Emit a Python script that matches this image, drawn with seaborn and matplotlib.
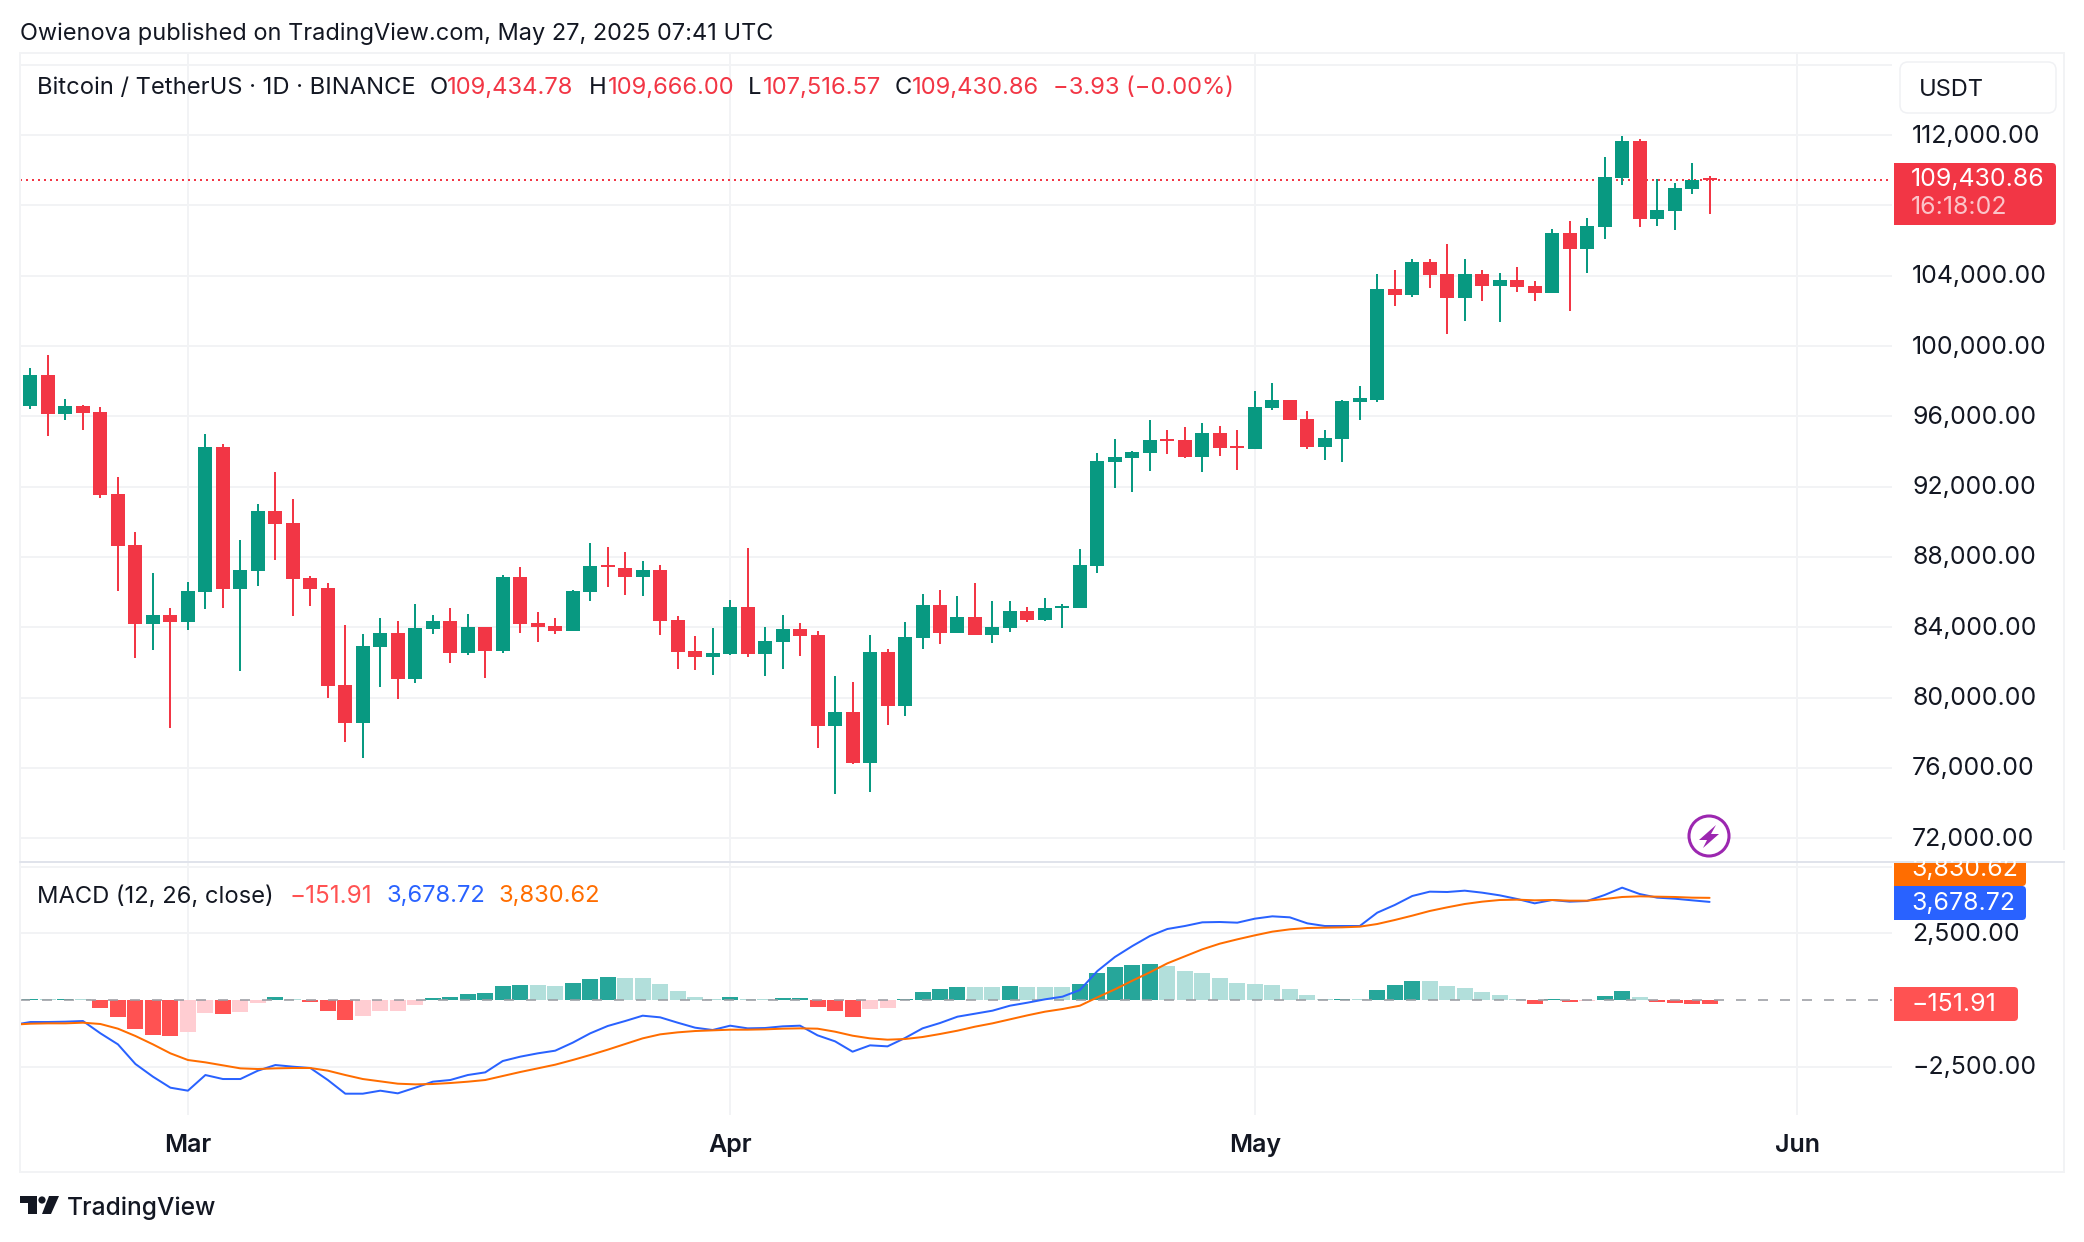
# BTC/USDT daily chart with MACD pane, TradingView look
import numpy as np
import pandas as pd
import matplotlib
matplotlib.use("Agg")
import matplotlib.pyplot as plt
from matplotlib.patches import Rectangle, Circle, Polygon, FancyBboxPatch
from matplotlib.transforms import ScaledTranslation
import seaborn as sns

# =============================================================================
# DATA
# =============================================================================
opens = [96587, 98350, 96132, 96587, 96246, 91582, 88681, 84187, 84699, 84301,
         86008, 94255, 86178, 87202, 90615, 89932, 86804, 86235, 80718, 78556,
         82879, 83675, 81059, 83903, 84358, 82538, 84017, 82652, 86843, 84227,
         84056, 83772, 85990, 87526, 87355, 86843, 87242, 84398, 82634, 82293,
         82464, 85137, 82464, 83146, 83886, 83544, 78368, 79165, 76264, 82577,
         79506, 83374, 85251, 83658, 84568, 83544, 83943, 84908, 84396, 85079,
         85079, 87468, 93384, 93611, 93895, 94692, 94635, 93668, 95033, 94294,
         94123, 96455, 96910, 95829, 94237, 94692, 96796, 96927, 103240, 102899,
         104776, 104094, 102729, 104094, 103411, 103752, 103411, 103013, 106426, 105516,
         106767, 109554, 111659, 107222, 107677, 108928, 109434.78]
highs = [98749, 99488, 96985, 96644, 96530, 92549, 89420, 87088, 85097, 86576,
         94995, 94426, 88965, 91013, 92833, 91297, 86918, 86519, 84130, 83619,
         84529, 84358, 85325, 84699, 85097, 84756, 84017, 86974, 87412, 84853,
         84511, 86104, 88777, 88550, 88265, 87754, 87526, 84625, 83488, 83943,
         85535, 88493, 83999, 84682, 84227, 83772, 81212, 80871, 83544, 82748,
         84284, 85876, 86104, 85763, 86502, 85478, 85478, 85136, 85648, 85307,
         88435, 93895, 94692, 94009, 95772, 95204, 95374, 95602, 95431, 95204,
         97422, 97877, 96910, 96284, 95204, 96910, 97706, 104094, 104321, 104947,
         104947, 105800, 104947, 104321, 104151, 104492, 103696, 106653, 107108, 107279,
         110749, 111943, 111772, 109497, 109270, 110407, 109666.00]
lows = [96417, 94881, 95791, 95222, 91354, 86064, 82253, 82708, 78272, 83846,
        85041, 85097, 81514, 86349, 87828, 84642, 85211, 79978, 77476, 76565,
        80604, 79921, 80831, 83619, 81969, 82424, 81116, 82538, 83658, 83146,
        83601, 83772, 85478, 86275, 85820, 85763, 83544, 81610, 81554, 81269,
        82407, 82293, 81212, 81610, 82350, 77117, 74500, 76207, 74614, 78425,
        78937, 82748, 83032, 83658, 83544, 83089, 83715, 84283, 84340, 83941,
        85079, 87070, 91905, 91677, 92872, 93839, 93611, 92815, 93725, 92928,
        94123, 96341, 95772, 94123, 93497, 93384, 95772, 96813, 102274, 102785,
        103297, 100681, 101420, 102558, 101363, 103070, 102558, 103013, 101989, 104151,
        106084, 109156, 106767, 106824, 106596, 108644, 107516.57]
closes = [98350, 96132, 96587, 96189, 91525, 88624, 84187, 84699, 84301, 86064,
          94255, 86178, 87259, 90615, 89875, 86747, 86178, 80661, 78556, 82936,
          83675, 81059, 83960, 84358, 82538, 84017, 82652, 86861, 84170, 83999,
          83772, 86047, 87469, 87412, 86843, 87242, 84341, 82577, 82293, 82521,
          85137, 82464, 83203, 83886, 83488, 78368, 79165, 76264, 82577, 79506,
          83431, 85251, 83658, 84568, 83544, 83999, 84910, 84396, 85079, 85193,
          87525, 93440, 93668, 93952, 94635, 94578, 93668, 95033, 94180, 94180,
          96512, 96910, 95772, 94237, 94749, 96853, 97024, 103240, 102899, 104776,
          104037, 102729, 104094, 103411, 103752, 103354, 103013, 106426, 105516, 106824,
          109611, 111659, 107222, 107734, 108985, 109434, 109430.86]

hist_values = [40, 25, 40, 25, -300, -638, -1088, -1313, -1350, -1200,
               -488, -525, -450, -113, 113, 30, -75, -413, -750, -600,
               -425, -413, -188, 75, 113, 225, 263, 525, 575, 563,
               525, 638, 788, 863, 825, 812, 600, 338, 113, 25,
               113, 30, 25, 75, 80, -263, -413, -638, -338, -300,
               38, 300, 413, 488, 485, 480, 525, 490, 488, 485,
               600, 1013, 1238, 1313, 1350, 1275, 1088, 1013, 825, 638,
               600, 563, 413, 188, 30, 35, 25, 375, 563, 713,
               700, 525, 450, 300, 188, 38, -138, 30, -65, -30,
               150, 338, 113, -65, -100, -138, -151.91]

# both lines start one day before the first candle, clipped by the pane edge
macd_line = [-938, -825, -825, -813, -788, -1250, -1663, -2400, -2875, -3288, -3400,
             -2813, -2963, -2963, -2650, -2438, -2500, -2550, -3000, -3513, -3513,
             -3400, -3500, -3288, -3063, -3000, -2813, -2713, -2288, -2125, -2000,
             -1900, -1600, -1250, -975, -788, -588, -650, -850, -1038, -1125,
             -963, -1063, -1050, -988, -963, -1325, -1550, -1938, -1700, -1738,
             -1425, -1063, -863, -625, -513, -400, -213, -100, 25, 125,
             375, 1088, 1613, 2025, 2400, 2663, 2775, 2913, 2925, 2900,
             3050, 3138, 3100, 2875, 2775, 2775, 2775, 3275, 3563, 3900,
             4063, 4050, 4100, 4025, 3925, 3788, 3625, 3750, 3688, 3713,
             3938, 4213, 3975, 3838, 3800, 3738, 3678.72]
signal_line = [-925, -888, -875, -875, -850, -900, -1075, -1350, -1663, -2000, -2250,
               -2338, -2450, -2563, -2588, -2563, -2550, -2550, -2650, -2813, -2963,
               -3050, -3138, -3163, -3150, -3113, -3063, -3000, -2850, -2700, -2563,
               -2425, -2250, -2063, -1863, -1650, -1438, -1288, -1213, -1163, -1138,
               -1113, -1113, -1100, -1075, -1063, -1075, -1188, -1338, -1438, -1488,
               -1463, -1388, -1275, -1150, -1000, -875, -725, -575, -438, -338,
               -213, 100, 400, 725, 1038, 1375, 1638, 1900, 2113, 2275,
               2425, 2563, 2650, 2700, 2713, 2725, 2750, 2850, 3000, 3163,
               3338, 3475, 3600, 3688, 3750, 3763, 3738, 3750, 3725, 3725,
               3788, 3863, 3888, 3875, 3863, 3838, 3830.62]

price_ticks = [72000, 76000, 80000, 84000, 88000, 92000, 96000, 100000, 104000, 108000, 112000, 116000]
price_labels = ["72,000.00", "76,000.00", "80,000.00", "84,000.00", "88,000.00", "92,000.00",
                "96,000.00", "100,000.00", "104,000.00", "", "112,000.00", ""]
macd_ticks = [-2500, 2500, 5000]
macd_labels = ["\u22122,500.00", "2,500.00", ""]
month_days = [9, 40, 70, 101]   # days since Feb 20
month_labels = ["Mar", "Apr", "May", "Jun"]

UP = "#089981"
DOWN = "#F23645"
GRID = "#F2F3F5"
TEXT = "#131722"
hist_palette = {"up_strong": "#26A69A", "up_weak": "#B2DFDB", "down_strong": "#FF5252", "down_weak": "#FFCDD2"}

# =============================================================================
# LAYOUT
# =============================================================================
W, H = 2084, 1242
PANE_L, PANE_R = 20, 1892
MAIN_T, MAIN_B = 53, 862
MACD_B = 1115
LW2 = 1.44   # 2 px at dpi 100
AXIS_FS = 17.9

sns.set_theme(style="white")
plt.rcParams["font.family"] = ["Inter", "DejaVu Sans"]

fig = plt.figure(figsize=(W / 100, H / 100), dpi=100, facecolor="white")
ax = fig.add_axes([PANE_L / W, (H - MAIN_B) / H, (PANE_R - PANE_L) / W, (MAIN_B - MAIN_T) / H])
ax_macd = fig.add_axes([PANE_L / W, (H - MACD_B) / H, (PANE_R - PANE_L) / W, (MACD_B - MAIN_B) / H])
over = fig.add_axes([0, 0, 1, 1], zorder=5)
over.set_xlim(0, W); over.set_ylim(H, 0); over.axis("off"); over.patch.set_alpha(0)

days = np.arange(len(closes))
XLIM = (-0.6, 106.43)

# =============================================================================
# CANDLES
# =============================================================================
o, h, l, c = map(np.array, (opens, highs, lows, closes))
colors = np.where(c >= o, UP, DOWN)
ax.vlines(days, l, h, colors=colors, linewidth=LW2, zorder=3)
body = np.maximum(np.abs(c - o), 114)  # doji still gets a 2px body
ax.bar(days, body, bottom=np.minimum(o, c), width=0.8, color=colors, linewidth=0, zorder=3)
ax.axhline(closes[-1], color=DOWN, lw=LW2, ls=(0, (1, 2)), zorder=2)

ax.set_xlim(*XLIM)
ax.set_ylim(70650, 116666)
ax.set_xticks(month_days)
ax.set_xticklabels([])
ax.set_yticks(price_ticks)
ax.set_yticklabels(price_labels, va="center_baseline")
ax.yaxis.tick_right()
ax.tick_params(axis="both", length=0, pad=14.5, labelsize=AXIS_FS, labelcolor=TEXT)
ax.grid(True, color=GRID, lw=LW2, zorder=0)
ax.set_axisbelow(True)
sns.despine(ax=ax, left=True, bottom=True, right=True, top=True)

# =============================================================================
# MACD PANE
# =============================================================================
hist = np.array(hist_values)
prev = np.r_[-np.inf, hist[:-1]]
shade = [("up" if v >= 0 else "down") + ("_strong" if (v > p) == (v >= 0) else "_weak") for v, p in zip(hist, prev)]
hist_df = pd.DataFrame({"day": days, "hist": hist, "shade": shade})
sns.barplot(data=hist_df, x="day", y="hist", hue="shade", palette=hist_palette, native_scale=True,
            dodge=False, width=0.915, saturation=1, errorbar=None, legend=False, linewidth=0,
            ax=ax_macd, zorder=2)
ax_macd.axhline(0, color="#9A9CA3", lw=LW2, ls=(0, (5, 6)), alpha=0.8, zorder=3)

line_days = np.arange(-1, len(closes))
sns.lineplot(x=line_days, y=macd_line, color="#2962FF", lw=LW2, ax=ax_macd, zorder=4)
sns.lineplot(x=line_days, y=signal_line, color="#FF6D00", lw=LW2, ax=ax_macd, zorder=5)

ax_macd.set_xlim(*XLIM)
ax_macd.set_ylim(-4312, 5175)
ax_macd.set_xlabel(""); ax_macd.set_ylabel("")
ax_macd.set_xticks(month_days)
ax_macd.set_xticklabels(month_labels, fontsize=18, fontweight="semibold", color=TEXT)
ax_macd.set_yticks(macd_ticks)
ax_macd.set_yticklabels(macd_labels, va="center_baseline")
ax_macd.yaxis.tick_right()
ax_macd.tick_params(axis="y", length=0, pad=14.5, labelsize=AXIS_FS, labelcolor=TEXT)
ax_macd.tick_params(axis="x", length=0, pad=14)
ax_macd.grid(True, color=GRID, lw=LW2, zorder=0)
ax_macd.set_axisbelow(True)
sns.despine(ax=ax_macd, left=True, bottom=True, right=True, top=True)

# price labels sit a touch high in the reference
nudge = ScaledTranslation(0, 1.5 / 100, fig.dpi_scale_trans)
for a in (ax, ax_macd):
    for t in a.get_yticklabels():
        t.set_transform(t.get_transform() + nudge)

# =============================================================================
# CHROME: frame, header, price tags, logo
# =============================================================================
over.add_patch(Rectangle((20, 53), 2044, 1119, fc="none", ec=GRID, lw=LW2))
over.plot([20, 2064], [862, 862], color="#E0E3EB", lw=LW2)

def put(x, y, s, size=17.1, color=TEXT, **kw):
    return over.text(x, y + 1.5, s, fontsize=size, color=color, va="center", ha="left", **kw)

def tag(x, y, w, ht, color):
    # rounded on the right side only
    over.add_patch(FancyBboxPatch((x + 4, y + 4), w - 8, ht - 8, boxstyle="round,pad=4,rounding_size=4", fc=color, ec="none"))
    over.add_patch(Rectangle((x, y), w / 2, ht, fc=color, ec="none"))

put(20, 32, "Owienova published on TradingView.com, May 27, 2025 07:41 UTC", size=16.95)

# legend line, main pane
put(37, 86.5, "Bitcoin / TetherUS \u00b7 1D \u00b7 BINANCE")
for x, lab, xv, val in [(430, "O", 447, "109,434.78"), (589, "H", 608, "109,666.00"),
                        (748, "L", 763, "107,516.57"), (895, "C", 912, "109,430.86")]:
    put(x, 86.5, lab)
    put(xv, 86.5, val, color=DOWN)
put(1053, 86.5, "\u22123.93 (\u22120.00%)", color=DOWN)

# legend line, MACD pane
put(37, 895, "MACD (12, 26, close)")
put(289, 895, "\u2212151.91", size=17.5, color="#FF5252")
put(387, 895, "3,678.72", color="#2962FF")
put(498, 895, "3,830.62", color="#FF6D00")

# currency button
over.add_patch(FancyBboxPatch((1904, 66), 148, 43, boxstyle="round,pad=4,rounding_size=8",
                              fc="white", ec="#F0F1F4", lw=1.1))
put(1919, 88, "USDT", size=17)

# last price tag
tag(1894, 163, 162, 62, DOWN)
put(1911, 178, "109,430.86", size=AXIS_FS, color="white")
put(1911, 206, "16:18:02", size=AXIS_FS, color="#FBC4C9")

# MACD value tags
clip_box = Rectangle((1894, 863), 132, 23, transform=over.transData)
tag(1894, 850, 132, 36, "#FF6D00")
over.add_patch(Rectangle((1880, 850), 190, 11, fc="white", ec="none"))
over.plot([1880, 2064], [862, 862], color="#E0E3EB", lw=LW2)
orange_txt = put(1911, 868, "3,830.62", size=AXIS_FS, color="white")
orange_txt.set_clip_path(clip_box)
tag(1894, 886, 132, 34, "#2962FF")
put(1911, 902, "3,678.72", size=AXIS_FS, color="white")
tag(1894, 987, 124, 34, "#FF5252")
put(1911, 1003, "\u2212151.91", size=AXIS_FS, color="white")

# bolt marker
PURPLE = "#9C27B0"
over.add_patch(Circle((1709, 836), 20, fc="white", ec=PURPLE, lw=2.2))
over.add_patch(Polygon([(1716, 825), (1699, 840), (1707, 840), (1703, 848), (1719, 834), (1711, 834)],
                       closed=True, fc=PURPLE, ec="none"))

# TradingView logo
LOGO = "#131722"
over.add_patch(Polygon([(20, 1196), (37, 1196), (37, 1214), (28, 1214), (28, 1203), (20, 1203)], closed=True, fc=LOGO, ec="none"))
over.add_patch(Circle((42, 1200), 3.6, fc=LOGO, ec="none"))
over.add_patch(Polygon([(49, 1196), (59, 1196), (51, 1214), (42, 1214)], closed=True, fc=LOGO, ec="none"))
put(67, 1207, "TradingView", size=17.7, fontweight="medium")

fig.savefig("out.png", dpi=100, facecolor="white")
